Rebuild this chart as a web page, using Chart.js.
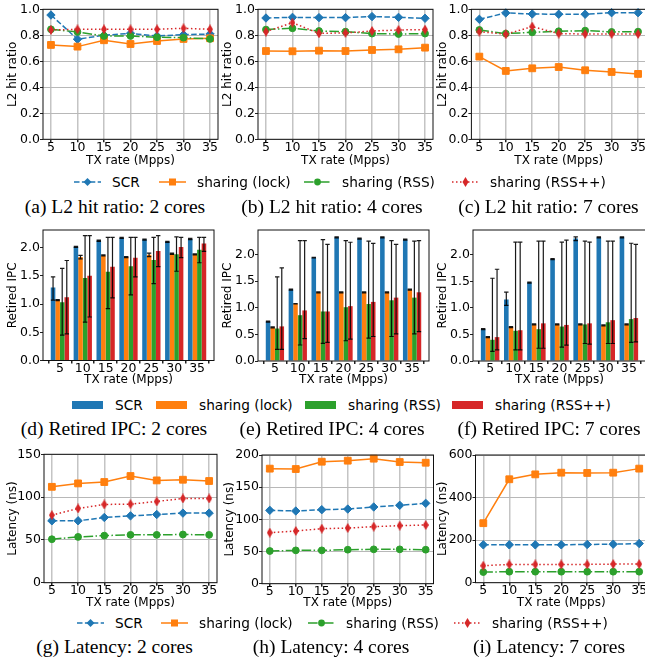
<!DOCTYPE html>
<html>
<head>
<meta charset="utf-8">
<script src="https://cdn.jsdelivr.net/npm/chart.js@4.4.1/dist/chart.umd.min.js"></script>
<style>
  body { margin: 0; background: #fff; width: 645px; height: 659px; position: relative; overflow: hidden; }
  .cap { position: absolute; font-family: "Liberation Serif", "Times New Roman", serif; font-size: 19.5px; line-height: 22px; white-space: nowrap; transform: translateX(-50%); color: #000; }
  .legtxt { position: absolute; font-family: "DejaVu Sans", sans-serif; font-size: 13.7px; line-height: 16px; white-space: nowrap; color: #000; }
  .leghd { position: absolute; }
</style>
</head>
<body>
<script>
// ---- data ----
const txRates = [5, 10, 15, 20, 25, 30, 35];
const seriesLabels = ['SCR', 'sharing (lock)', 'sharing (RSS)', 'sharing (RSS++)'];
const seriesColors = ['#1f77b4', '#ff7f0e', '#2ca02c', '#d62728'];

const l2Ticks = [0, 0.2, 0.4, 0.6, 0.8, 1.0];
const ipcTicks = [0, 0.5, 1.0, 1.5, 2.0];
const lat2Ticks = [0, 50, 100, 150];
const lat4Ticks = [0, 50, 100, 150, 200];
const lat7Ticks = [0, 200, 400, 600];

// L2 hit ratio
const l2c2Scr   = [0.956, 0.77, 0.80, 0.815, 0.795, 0.805, 0.81];
const l2c2Lock  = [0.726, 0.713, 0.762, 0.733, 0.756, 0.772, 0.777];
const l2c2Rss   = [0.846, 0.826, 0.795, 0.795, 0.785, 0.782, 0.772];
const l2c2RssPP = [0.841, 0.846, 0.846, 0.846, 0.846, 0.854, 0.846];

const l2c4Scr   = [0.933, 0.938, 0.936, 0.936, 0.944, 0.938, 0.931];
const l2c4Lock  = [0.679, 0.677, 0.682, 0.679, 0.687, 0.692, 0.705];
const l2c4Rss   = [0.844, 0.854, 0.833, 0.828, 0.813, 0.81, 0.813];
const l2c4RssPP = [0.828, 0.897, 0.815, 0.818, 0.833, 0.841, 0.844];

const l2c7Scr   = [0.923, 0.972, 0.964, 0.962, 0.962, 0.974, 0.974];
const l2c7Lock  = [0.636, 0.526, 0.546, 0.556, 0.531, 0.518, 0.503];
const l2c7Rss   = [0.841, 0.813, 0.823, 0.831, 0.836, 0.826, 0.828];
const l2c7RssPP = [0.828, 0.808, 0.867, 0.813, 0.81, 0.81, 0.81];

// Retired IPC (value + [low, high] error bars)
const ipc2Scr   = [1.29, 2.01, 2.12, 2.17, 2.14, 2.10, 2.15];
const ipc2ScrErr = [[1.07,1.48],[2.00,2.02],[2.11,2.13],[2.16,2.18],[2.13,2.15],[2.09,2.11],[2.14,2.16]];
const ipc2Lock  = [1.07, 1.83, 1.86, 1.83, 1.87, 1.89, 1.88];
const ipc2LockErr = [[1.06,1.08],[1.80,1.86],[1.85,1.87],[1.82,1.84],[1.84,1.90],[1.88,1.90],[1.87,1.89]];
const ipc2Rss   = [1.03, 1.46, 1.57, 1.67, 1.78, 1.88, 1.96];
const ipc2RssErr = [[0.45,1.63],[0.68,2.21],[0.92,2.18],[1.16,2.18],[1.36,2.18],[1.58,2.19],[1.73,2.18]];
const ipc2RssPP = [1.12, 1.50, 1.66, 1.82, 1.94, 2.01, 2.07];
const ipc2RssPPErr = [[0.47,1.77],[0.77,2.21],[1.11,2.18],[1.48,2.18],[1.66,2.21],[1.82,2.18],[1.93,2.18]];

const ipc4Scr   = [0.74, 1.34, 1.94, 2.32, 2.30, 2.32, 2.28];
const ipc4ScrErr = [[0.73,0.75],[1.33,1.35],[1.935,1.945],[2.31,2.33],[2.29,2.31],[2.31,2.33],[2.27,2.29]];
const ipc4Lock  = [0.63, 1.075, 1.29, 1.29, 1.29, 1.29, 1.34];
const ipc4LockErr = [[0.62,0.64],[1.07,1.08],[1.28,1.30],[1.28,1.30],[1.28,1.30],[1.28,1.30],[1.33,1.35]];
const ipc4Rss   = [0.61, 0.86, 0.93, 1.01, 1.07, 1.14, 1.19];
const ipc4RssErr = [[0.22,1.58],[0.30,2.26],[0.33,2.28],[0.38,2.26],[0.43,2.25],[0.46,2.26],[0.51,2.25]];
const ipc4RssPP = [0.65, 0.95, 0.93, 1.03, 1.11, 1.19, 1.29];
const ipc4RssPPErr = [[0.22,1.75],[0.42,2.26],[0.35,2.19],[0.41,2.23],[0.46,2.21],[0.51,2.19],[0.55,2.26]];

const ipc7Scr   = [0.60, 1.16, 1.48, 1.92, 2.31, 2.33, 2.33];
const ipc7ScrErr = [[0.59,0.61],[1.05,1.30],[1.47,1.49],[1.91,1.93],[2.27,2.34],[2.32,2.34],[2.32,2.34]];
const ipc7Lock  = [0.45, 0.64, 0.69, 0.69, 0.69, 0.67, 0.69];
const ipc7LockErr = [[0.44,0.46],[0.63,0.65],[0.68,0.70],[0.68,0.70],[0.68,0.70],[0.66,0.68],[0.68,0.70]];
const ipc7Rss   = [0.40, 0.57, 0.60, 0.65, 0.69, 0.73, 0.79];
const ipc7RssErr = [[0.18,1.56],[0.21,2.24],[0.24,2.26],[0.26,2.24],[0.33,2.26],[0.33,2.26],[0.35,2.22]];
const ipc7RssPP = [0.45, 0.58, 0.71, 0.68, 0.71, 0.77, 0.81];
const ipc7RssPPErr = [[0.21,1.73],[0.21,2.24],[0.24,2.26],[0.30,2.28],[0.32,2.24],[0.33,2.26],[0.36,2.20]];

// Latency (ns)
const lat2Scr   = [72.3, 72.3, 76.2, 78.1, 79.7, 81.3, 81.3];
const lat2Lock  = [112, 116, 117.6, 124.6, 119.5, 120.3, 118.8];
const lat2Rss   = [50.8, 53.5, 55, 55.9, 55.9, 56.3, 55.9];
const lat2RssPP = [78.9, 86.7, 91.4, 91.8, 94.9, 98.4, 98.4];

const lat4Scr   = [114, 113, 115, 116, 119.2, 121.8, 124.9];
const lat4Lock  = [178.8, 178.2, 189.6, 191.2, 194.3, 189.1, 188];
const lat4Rss   = [50.8, 51.8, 51.8, 52.8, 53.4, 53.4, 52.8];
const lat4RssPP = [79.3, 81.9, 85.5, 86.5, 88.6, 90.2, 91.2];

const lat7Scr   = [178, 178, 178, 178, 179.7, 181, 184];
const lat7Lock  = [279.7, 486, 509, 517, 515.6, 517, 536];
const lat7Rss   = [50, 51.6, 51.6, 51.6, 51.6, 51.6, 51.6];
const lat7RssPP = [79.7, 86, 86, 86, 86, 87.5, 87.5];

const captions = [
  '(a) L2 hit ratio: 2 cores', '(b) L2 hit ratio: 4 cores', '(c) L2 hit ratio: 7 cores',
  '(d) Retired IPC: 2 cores', '(e) Retired IPC: 4 cores', '(f) Retired IPC: 7 cores',
  '(g) Latency: 2 cores', '(h) Latency: 4 cores', '(i) Latency: 7 cores'
];

// ---- styling ----
Chart.defaults.font.family = "'DejaVu Sans', sans-serif";
Chart.defaults.color = '#000';
Chart.defaults.devicePixelRatio = 1;

const lineDash = [[5.5, 2.4], [], [9.6, 2.4, 1.5, 2.4], [1.5, 2.5]];

function thinDiamond(color, w, h) {
  const c = document.createElement('canvas');
  c.width = w; c.height = h;
  const g = c.getContext('2d');
  g.fillStyle = color;
  g.beginPath();
  g.moveTo(w / 2, 0); g.lineTo(w, h / 2); g.lineTo(w / 2, h); g.lineTo(0, h / 2);
  g.closePath(); g.fill();
  return c;
}
const redMarker = thinDiamond(seriesColors[3], 6, 10);
const pointStyles = ['rectRot', 'rect', 'circle', redMarker];
const pointRadii = [4.2, 4.8, 3.4, 4];

const framePlugin = {
  id: 'frame',
  afterDraw(chart) {
    const { ctx, chartArea: a } = chart;
    ctx.save();
    ctx.strokeStyle = '#111';
    ctx.lineWidth = 1;
    ctx.strokeRect(a.left, a.top, a.right - a.left, a.bottom - a.top);
    ctx.restore();
  }
};

const errorBarPlugin = {
  id: 'errorBars',
  afterDatasetsDraw(chart) {
    const ctx = chart.ctx, ys = chart.scales.y;
    ctx.save();
    ctx.strokeStyle = 'rgba(0,0,0,0.9)';
    ctx.lineWidth = 1.2;
    chart.data.datasets.forEach((ds, i) => {
      if (!ds.errorBars) return;
      chart.getDatasetMeta(i).data.forEach((bar, j) => {
        const [lo, hi] = ds.errorBars[j];
        const y1 = ys.getPixelForValue(lo), y2 = ys.getPixelForValue(hi);
        ctx.beginPath();
        ctx.moveTo(bar.x, y1); ctx.lineTo(bar.x, y2);
        ctx.moveTo(bar.x - 2.2, y1); ctx.lineTo(bar.x + 2.2, y1);
        ctx.moveTo(bar.x - 2.2, y2); ctx.lineTo(bar.x + 2.2, y2);
        ctx.stroke();
      });
    });
    ctx.restore();
  }
};

// g: plot area box in page pixels, titleY: x title centre, yOff: y title offset from plot left
function makeCanvas(g) {
  const xAxisH = g.titleY - g.b + 7.2;
  const left = Math.floor(g.l) - 46, top = Math.floor(g.t) - 8;
  const w = Math.ceil(g.r) + 12 - left;
  const h = Math.ceil(g.b + xAxisH) + 2 - top;
  const c = document.createElement('canvas');
  c.width = w; c.height = h;
  c.style.cssText = `position:absolute;left:${left}px;top:${top}px;width:${w}px;height:${h}px`;
  document.body.appendChild(c);
  return {
    c, xAxisH, yAxisW: g.l - left,
    padding: { top: g.t - top, right: left + w - g.r, bottom: h - (g.b - top) - xAxisH, left: 0 }
  };
}

function scales(g, cv, xMin, xMax, yTicks, yMax, yTitle, dec, gridOn) {
  return {
    x: {
      type: 'linear', min: xMin, max: xMax, offset: false,
      afterBuildTicks: s => { s.ticks = txRates.map(v => ({ value: v })); },
      afterFit: s => { s.height = cv.xAxisH; },
      grid: { drawOnChartArea: gridOn, color: '#c4c4c4', lineWidth: 1.5, tickLength: 3, tickColor: '#222' },
      border: { display: false },
      ticks: { font: { size: 12.5, lineHeight: 1 }, padding: -1.2, maxRotation: 0, autoSkip: false, color: '#000' },
      title: { display: true, text: 'TX rate (Mpps)', font: { size: 12 }, color: '#000', padding: { top: 0, bottom: 0 } }
    },
    y: {
      min: 0, max: yMax,
      afterBuildTicks: s => { s.ticks = yTicks.map(v => ({ value: v })); },
      afterFit: s => { s.width = cv.yAxisW; },
      grid: { drawOnChartArea: gridOn, color: '#b8b8b8', lineWidth: 1, tickLength: 3, tickColor: '#222' },
      border: { display: false },
      ticks: { font: { size: 12.5 }, padding: 0, autoSkip: false, color: '#000', callback: v => v.toFixed(dec) },
      title: { display: true, text: yTitle, font: { size: 12 }, color: '#000', padding: { top: cv.yAxisW - g.yOff - 7.2, bottom: 0 } }
    }
  };
}

function lineChart(g, series, yTicks, yMax, yTitle, dec) {
  const cv = makeCanvas(g);
  new Chart(cv.c, {
    type: 'line',
    data: {
      datasets: series.map((vals, i) => ({
        label: seriesLabels[i],
        data: txRates.map((x, k) => ({ x, y: vals[k] })),
        borderColor: seriesColors[i],
        backgroundColor: seriesColors[i],
        borderWidth: 1.5,
        borderDash: lineDash[i],
        pointStyle: pointStyles[i],
        pointRadius: pointRadii[i],
        pointBorderWidth: 1,
        tension: 0,
        order: 3 - i,
        clip: false
      }))
    },
    options: {
      responsive: false, animation: false,
      layout: { padding: cv.padding },
      plugins: { legend: { display: false }, tooltip: { enabled: false } },
      scales: scales(g, cv, 3.5, 36.5, yTicks, yMax, yTitle, dec, true)
    },
    plugins: [framePlugin]
  });
}

function barChart(g, series, errs, yMax) {
  const cv = makeCanvas(g);
  new Chart(cv.c, {
    type: 'bar',
    data: {
      datasets: series.map((vals, i) => ({
        label: seriesLabels[i],
        data: txRates.map((x, k) => ({ x, y: vals[k] })),
        backgroundColor: seriesColors[i],
        borderWidth: 0,
        categoryPercentage: 0.8,
        barPercentage: 1.0,
        errorBars: errs[i]
      }))
    },
    options: {
      responsive: false, animation: false,
      layout: { padding: cv.padding },
      plugins: { legend: { display: false }, tooltip: { enabled: false } },
      scales: scales(g, cv, 1.3, 38.7, ipcTicks, yMax, 'Retired IPC', 1, false)
    },
    plugins: [errorBarPlugin, framePlugin]
  });
}

// row 1: L2 hit ratio
lineChart({ l: 43, r: 218, t: 9.3, b: 139.3, titleY: 161, yOff: 30 },
  [l2c2Scr, l2c2Lock, l2c2Rss, l2c2RssPP], l2Ticks, 1.0, 'L2 hit ratio', 1);
lineChart({ l: 258, r: 433, t: 9.3, b: 139.3, titleY: 161, yOff: 30 },
  [l2c4Scr, l2c4Lock, l2c4Rss, l2c4RssPP], l2Ticks, 1.0, 'L2 hit ratio', 1);
lineChart({ l: 471.4, r: 646, t: 9.3, b: 139.3, titleY: 161, yOff: 28.5 },
  [l2c7Scr, l2c7Lock, l2c7Rss, l2c7RssPP], l2Ticks, 1.0, 'L2 hit ratio', 1);

// row 2: retired IPC
barChart({ l: 43, r: 214, t: 230, b: 360.5, titleY: 380, yOff: 30 },
  [ipc2Scr, ipc2Lock, ipc2Rss, ipc2RssPP], [ipc2ScrErr, ipc2LockErr, ipc2RssErr, ipc2RssPPErr], 2.31);
barChart({ l: 258, r: 429, t: 230, b: 361, titleY: 380, yOff: 30 },
  [ipc4Scr, ipc4Lock, ipc4Rss, ipc4RssPP], [ipc4ScrErr, ipc4LockErr, ipc4RssErr, ipc4RssPPErr], 2.46);
barChart({ l: 473, r: 646, t: 230, b: 361, titleY: 380, yOff: 30 },
  [ipc7Scr, ipc7Lock, ipc7Rss, ipc7RssPP], [ipc7ScrErr, ipc7LockErr, ipc7RssErr, ipc7RssPPErr], 2.47);

// row 3: latency
lineChart({ l: 44, r: 217, t: 454.3, b: 582.7, titleY: 603, yOff: 31 },
  [lat2Scr, lat2Lock, lat2Rss, lat2RssPP], lat2Ticks, 150, 'Latency (ns)', 0);
lineChart({ l: 262, r: 433.5, t: 455, b: 583.7, titleY: 603, yOff: 32 },
  [lat4Scr, lat4Lock, lat4Rss, lat4RssPP], lat4Ticks, 200, 'Latency (ns)', 0);
lineChart({ l: 475.5, r: 647, t: 455, b: 582.7, titleY: 603, yOff: 32.5 },
  [lat7Scr, lat7Lock, lat7Rss, lat7RssPP], lat7Ticks, 600, 'Latency (ns)', 0);

// ---- legends ----
function lineHandleSvg(i) {
  const c = seriesColors[i];
  const dash = lineDash[i].length ? `stroke-dasharray="${lineDash[i].join(' ')}"` : '';
  let m;
  if (i === 0) m = `<polygon points="13.5,3 17.5,7 13.5,11 9.5,7" fill="${c}"/>`;
  else if (i === 1) m = `<rect x="10" y="3.5" width="7" height="7" fill="${c}"/>`;
  else if (i === 2) m = `<circle cx="13.5" cy="7" r="3.4" fill="${c}"/>`;
  else m = `<polygon points="13.5,2 16.5,7 13.5,12 10.5,7" fill="${c}"/>`;
  return `<svg width="27" height="14" xmlns="http://www.w3.org/2000/svg"><line x1="0" y1="7" x2="27" y2="7" stroke="${c}" stroke-width="1.5" ${dash}/>${m}</svg>`;
}

function legendRow(cy, textX, boxes) {
  seriesLabels.forEach((lab, i) => {
    const t = document.createElement('div');
    t.className = 'legtxt';
    t.textContent = lab;
    t.style.left = textX[i] + 'px';
    t.style.top = (cy - 8) + 'px';
    document.body.appendChild(t);
    const hd = document.createElement('div');
    hd.className = 'leghd';
    if (boxes) {
      hd.style.cssText = `left:${textX[i] - 43}px;top:${cy - 4}px;width:31px;height:8px;background:${seriesColors[i]}`;
    } else {
      hd.style.cssText = `left:${textX[i] - 38}px;top:${cy - 7}px;width:27px;height:14px`;
      hd.innerHTML = lineHandleSvg(i);
    }
    document.body.appendChild(hd);
  });
}

legendRow(182, [112, 197, 342, 490], false);
legendRow(405, [115, 199, 348, 495], true);
legendRow(623, [115, 199, 346, 492], false);

// ---- captions ----
const capX = [115, 332, 548.5, 114, 332, 549, 114.5, 331, 549];
const capY = [207, 207, 207, 429, 429, 429, 647, 647, 647];
captions.forEach((txt, i) => {
  const d = document.createElement('div');
  d.className = 'cap';
  d.textContent = txt;
  d.style.left = capX[i] + 'px';
  d.style.top = (capY[i] - 11) + 'px';
  document.body.appendChild(d);
});
</script>
</body>
</html>
